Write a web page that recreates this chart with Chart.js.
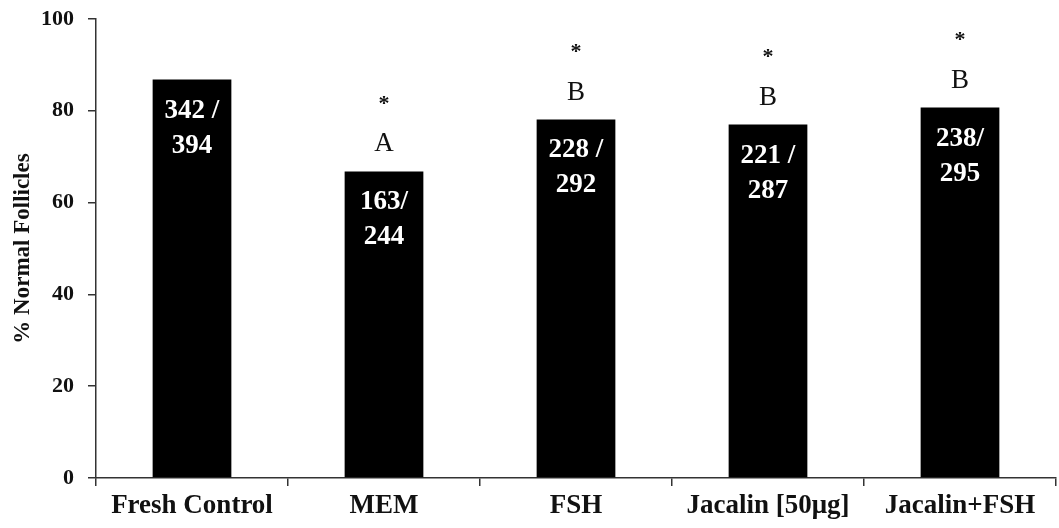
<!DOCTYPE html>
<html>
<head>
<meta charset="utf-8">
<script src="https://cdn.jsdelivr.net/npm/chart.js@4.4.1/dist/chart.umd.min.js"></script>
<style>
  html, body { margin: 0; padding: 0; background: #fff; }
  #wrap { width: 1059px; height: 528px; position: relative; }
</style>
</head>
<body>
<div id="wrap"><canvas id="c" width="1059" height="528"></canvas></div>
<script>
// Treatment groups and percentage of morphologically normal follicles
const groups = ['Fresh Control', 'MEM', 'FSH', 'Jacalin [50μg]', 'Jacalin+FSH'];
const normalPct = [86.8, 66.8, 78.1, 77.0, 80.7];
// Follicle counts printed inside each bar (normal / total)
const countTop = ['342 /', '163/', '228 /', '221 /', '238/'];
const countBottom = ['394', '244', '292', '287', '295'];
// Statistical group letters and significance marks above the bars
const groupLetters = ['', 'A', 'B', 'B', 'B'];
const sigMarks = ['', '*', '*', '*', '*'];
const yTicks = [0, 20, 40, 60, 80, 100];

const SERIF = '"Liberation Serif", "Times New Roman", serif';

const barNotes = {
  id: 'barNotes',
  afterDatasetsDraw(chart) {
    const ctx = chart.ctx;
    const meta = chart.getDatasetMeta(0);
    ctx.save();
    ctx.textAlign = 'center';
    ctx.textBaseline = 'middle';
    meta.data.forEach((bar, i) => {
      const x = bar.x, top = bar.y;
      // counts inside the bar
      ctx.fillStyle = '#ffffff';
      ctx.font = 'bold 27px ' + SERIF;
      ctx.fillText(countTop[i], x, top + 31);
      ctx.fillText(countBottom[i], x, top + 66);
      // letters and asterisks above the bar
      ctx.fillStyle = '#111111';
      if (groupLetters[i]) {
        ctx.font = '27px ' + SERIF;
        ctx.fillText(groupLetters[i], x, top - 27);
      }
      if (sigMarks[i]) {
        ctx.font = 'bold 22px ' + SERIF;
        ctx.fillText(sigMarks[i], x, top - 67);
      }
    });
    ctx.restore();
  }
};

new Chart(document.getElementById('c'), {
  type: 'bar',
  data: {
    labels: groups,
    datasets: [{
      data: normalPct,
      backgroundColor: '#000000',
      borderWidth: 0,
      barPercentage: 0.41,
      categoryPercentage: 1.0
    }]
  },
  options: {
    responsive: false,
    animation: false,
    devicePixelRatio: 1,
    layout: { padding: { top: 19, right: 3, left: 0, bottom: 0 } },
    plugins: {
      legend: { display: false },
      tooltip: { enabled: false }
    },
    scales: {
      x: {
        offset: true,
        grid: {
          offset: true,
          drawOnChartArea: false,
          drawTicks: true,
          tickLength: 8,
          color: '#333333',
          lineWidth: 1.5
        },
        border: { display: true, color: '#333333', width: 1.5 },
        ticks: {
          color: '#111111',
          font: { family: SERIF, size: 27, weight: 'bold' },
          padding: 4,
          maxRotation: 0,
          autoSkip: false
        },
        afterFit(scale) {
          scale.height = 50;
          scale.paddingLeft = 0;
          scale.paddingRight = 0;
        }
      },
      y: {
        min: 0,
        max: 100,
        afterBuildTicks(scale) { scale.ticks = yTicks.map(v => ({ value: v })); },
        grid: {
          drawOnChartArea: false,
          drawTicks: true,
          tickLength: 8,
          color: '#333333',
          lineWidth: 1.5
        },
        border: { display: true, color: '#333333', width: 1.5 },
        ticks: {
          color: '#111111',
          font: { family: SERIF, size: 22, weight: 'bold' },
          padding: 14
        },
        title: {
          display: true,
          text: '% Normal Follicles',
          color: '#111111',
          font: { family: SERIF, size: 23, weight: 'bold' },
          padding: { top: 9, bottom: 0 }
        },
        afterFit(scale) {
          scale.width = 96;
          scale.paddingTop = 0;
          scale.paddingBottom = 0;
        }
      }
    }
  },
  plugins: [barNotes]
});
</script>
</body>
</html>
